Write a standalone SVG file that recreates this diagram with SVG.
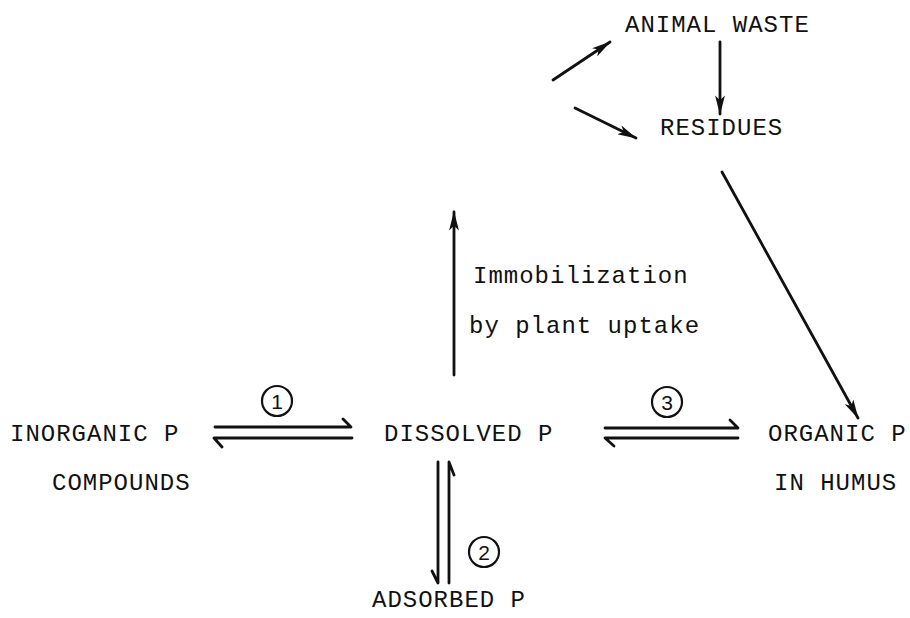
<svg xmlns="http://www.w3.org/2000/svg" width="910" height="618" viewBox="0 0 910 618">
  <style>
    .lbl { font-family: "Liberation Mono", "Courier New", monospace; font-size: 24px; letter-spacing: 1px; fill: #111; }
    .num { font-family: "Liberation Sans", Arial, sans-serif; font-size: 21px; fill: #111; text-anchor: middle; }
    .ln { stroke: #111; stroke-width: 2.8; fill: none; stroke-linecap: round; stroke-linejoin: round; }
    .ring { stroke: #111; stroke-width: 2.2; fill: none; }
  </style>
  <defs>
    <marker id="head" viewBox="0 0 20 10" refX="19" refY="5" markerWidth="7" markerHeight="3.5" markerUnits="strokeWidth" orient="auto">
      <path d="M0,0 L20,5 L0,10 L5,5 Z" fill="#111"/>
    </marker>
  </defs>
  <rect width="910" height="618" fill="#fff"/>

  <g id="node-animal-waste"><text class="lbl" x="625" y="32">ANIMAL WASTE</text></g>
  <g id="node-residues"><text class="lbl" x="660" y="135">RESIDUES</text></g>
  <g id="node-immobilization">
    <text class="lbl" x="473" y="283">Immobilization</text>
    <text class="lbl" x="469" y="333">by plant uptake</text>
  </g>
  <g id="node-inorganic"><text class="lbl" x="10" y="441">INORGANIC P</text><text class="lbl" x="52" y="490">COMPOUNDS</text></g>
  <g id="node-dissolved"><text class="lbl" x="384" y="441">DISSOLVED P</text></g>
  <g id="node-organic"><text class="lbl" x="768" y="441">ORGANIC P</text><text class="lbl" x="774" y="490">IN HUMUS</text></g>
  <g id="node-adsorbed"><text class="lbl" x="372" y="607">ADSORBED P</text></g>

  <g id="labels">
    <circle class="ring" cx="277" cy="401" r="15"/><text class="num" x="277" y="408.5">1</text>
    <circle class="ring" cx="484" cy="552" r="15"/><text class="num" x="484" y="559.5">2</text>
    <circle class="ring" cx="667" cy="402" r="15"/><text class="num" x="667" y="409.5">3</text>
  </g>

  <g id="connectors">
    <!-- single-headed flows -->
    <line class="ln" x1="553" y1="80" x2="610" y2="42" marker-end="url(#head)"/>
    <line class="ln" x1="575" y1="108" x2="636" y2="138" marker-end="url(#head)"/>
    <line class="ln" x1="720" y1="42" x2="720" y2="114" marker-end="url(#head)"/>
    <line class="ln" x1="722" y1="172" x2="858" y2="418" marker-end="url(#head)"/>
    <line class="ln" x1="454" y1="375" x2="454" y2="212" marker-end="url(#head)"/>
    <!-- equilibrium 1 -->
    <polyline class="ln" points="215,427 351,427 343,419"/>
    <polyline class="ln" points="222,447 214,438 352,438"/>
    <!-- equilibrium 3 -->
    <polyline class="ln" points="605,428 738,428 730,420"/>
    <polyline class="ln" points="614,446 605,438 738,438"/>
    <!-- equilibrium 2 -->
    <polyline class="ln" points="438,462 438,583 432,571"/>
    <polyline class="ln" points="449,583 449,462 454,475"/>
  </g>
</svg>
